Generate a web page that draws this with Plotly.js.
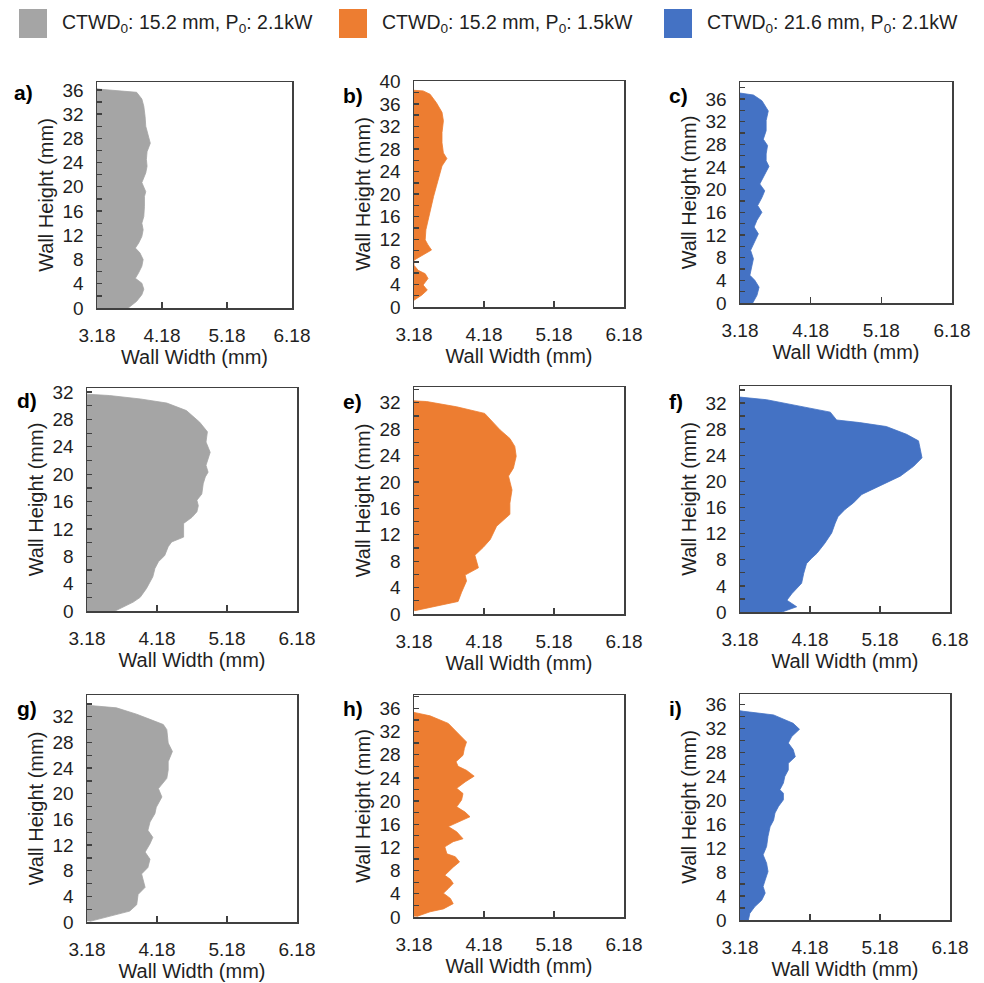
<!DOCTYPE html>
<html>
<head>
<meta charset="utf-8">
<script src="https://cdn.plot.ly/plotly-3.0.1.min.js"></script>
<style>html,body{margin:0;padding:0;background:#fff}#chart{width:984px;height:983px}</style>
</head>
<body>
<div id="chart"></div>
<script>
// ---- data ----
const seriesNames = ['CTWD<sub>0</sub>: 15.2 mm, P<sub>0</sub>: 2.1kW', 'CTWD<sub>0</sub>: 15.2 mm, P<sub>0</sub>: 1.5kW', 'CTWD<sub>0</sub>: 21.6 mm, P<sub>0</sub>: 2.1kW'];
const seriesColors = ['#A5A5A5', '#ED7D31', '#4472C4'];
const panelLabels = ['a)', 'b)', 'c)', 'd)', 'e)', 'f)', 'g)', 'h)', 'i)'];
const xTickVals = [3.18, 4.18, 5.18, 6.18];
const xTickText = ['3.18', '4.18', '5.18', '6.18'];
const xTitle = 'Wall Width (mm)';
const yTitle = 'Wall Height (mm)';

const aHeight = [0, 1.1, 2.2, 3.1, 4.1, 4.9, 5.8, 6.9, 8.0, 9.1, 9.9, 10.7, 11.8, 12.9, 14.0, 15.1, 16.8, 18.4, 19.2, 20.7, 22.3, 23.4, 24.5, 25.8, 27.2, 28.6, 30.0, 31.6, 33.3, 34.5, 35.6, 36.1, 36.2];
const aWidth  = [3.66, 3.79, 3.87, 3.90, 3.87, 3.77, 3.82, 3.87, 3.89, 3.84, 3.77, 3.82, 3.87, 3.89, 3.87, 3.90, 3.91, 3.91, 3.93, 3.87, 3.93, 3.95, 3.94, 3.95, 4.00, 3.96, 3.93, 3.92, 3.90, 3.87, 3.79, 3.23, 3.18];

const bHeight = [1.2, 2.1, 3.0, 3.9, 5.05, 5.9, 6.5, 7.4, 8.3, 8.9, 10.1, 11.0, 11.9, 13.7, 15.4, 17.8, 19.6, 21.4, 23.5, 25.0, 26.3, 27.3, 29.1, 30.9, 33.0, 34.5, 36.2, 37.7, 38.3, 38.4];
const bWidth  = [3.18, 3.29, 3.37, 3.31, 3.38, 3.34, 3.24, 3.18, 3.18, 3.27, 3.43, 3.38, 3.34, 3.35, 3.38, 3.43, 3.46, 3.50, 3.55, 3.58, 3.65, 3.60, 3.58, 3.58, 3.60, 3.58, 3.50, 3.41, 3.31, 3.18];

const cHeight = [0, 1.35, 2.8, 4.0, 4.9, 6.3, 7.8, 9.3, 10.7, 12.2, 13.4, 14.6, 16.0, 17.2, 18.6, 19.8, 21.0, 22.2, 24.1, 25.1, 26.3, 27.8, 28.9, 30.4, 32.2, 33.9, 35.7, 36.7, 37.0, 37.05];
const cWidth  = [3.36, 3.42, 3.45, 3.39, 3.32, 3.34, 3.37, 3.33, 3.38, 3.44, 3.38, 3.42, 3.49, 3.43, 3.49, 3.53, 3.46, 3.51, 3.59, 3.55, 3.55, 3.57, 3.51, 3.55, 3.55, 3.58, 3.49, 3.37, 3.20, 3.18];

const dHeight = [0, 0.6, 1.3, 2.0, 3.3, 5.0, 6.2, 7.2, 8.1, 9.4, 10.1, 10.8, 11.8, 12.8, 13.7, 14.5, 15.4, 16.2, 17.1, 18.6, 19.6, 20.3, 21.3, 23.2, 24.7, 26.2, 27.6, 29.3, 30.4, 31.0, 31.5, 31.7];
const dWidth  = [3.58, 3.70, 3.84, 3.94, 4.03, 4.12, 4.15, 4.20, 4.29, 4.34, 4.39, 4.56, 4.56, 4.56, 4.68, 4.75, 4.77, 4.75, 4.82, 4.84, 4.87, 4.91, 4.88, 4.94, 4.88, 4.90, 4.79, 4.60, 4.32, 3.94, 3.50, 3.18];

const eHeight = [0.5, 1.1, 1.9, 3.3, 5.0, 5.9, 7.0, 8.9, 10.1, 11.3, 13.3, 15.1, 16.8, 18.8, 20.9, 22.1, 23.9, 25.4, 26.6, 27.9, 29.1, 30.4, 31.4, 32.2, 32.3];
const eWidth  = [3.19, 3.46, 3.81, 3.86, 3.93, 3.91, 4.10, 4.05, 4.17, 4.27, 4.36, 4.55, 4.55, 4.58, 4.53, 4.60, 4.64, 4.62, 4.55, 4.41, 4.31, 4.19, 3.79, 3.36, 3.18];

const fHeight = [0, 0.8, 1.3, 1.8, 2.8, 4.4, 5.9, 7.4, 8.2, 9.0, 10.5, 12.1, 13.6, 14.6, 15.7, 16.7, 18.0, 19.3, 20.8, 22.3, 23.6, 25.2, 26.2, 27.2, 28.4, 29.0, 29.4, 30.6, 31.3, 31.8, 32.5, 32.9];
const fWidth  = [3.78, 3.99, 3.92, 3.85, 3.92, 4.06, 4.09, 4.13, 4.20, 4.28, 4.39, 4.49, 4.54, 4.58, 4.68, 4.80, 4.92, 5.18, 5.47, 5.66, 5.78, 5.75, 5.73, 5.56, 5.27, 4.89, 4.56, 4.47, 4.13, 3.85, 3.56, 3.18];

const gHeight = [0.1, 0.9, 1.7, 2.7, 4.3, 5.4, 6.4, 7.5, 8.5, 9.8, 10.9, 12.2, 13.2, 14.3, 15.6, 16.9, 17.9, 19.5, 20.8, 22.4, 23.7, 25.0, 26.6, 27.9, 30.0, 30.8, 31.6, 32.4, 33.4, 33.8];
const gWidth  = [3.22, 3.51, 3.79, 3.89, 3.91, 4.01, 3.99, 3.96, 4.05, 4.08, 4.01, 4.08, 4.12, 4.05, 4.08, 4.15, 4.17, 4.25, 4.20, 4.32, 4.34, 4.34, 4.40, 4.34, 4.32, 4.27, 4.08, 3.89, 3.60, 3.18];

const hHeight = [0.1, 0.9, 1.4, 2.3, 3.2, 4.1, 4.9, 5.8, 6.5, 7.2, 8.6, 9.5, 10.4, 10.9, 12.1, 13.0, 13.5, 14.7, 15.6, 16.4, 17.3, 18.1, 19.0, 20.2, 21.3, 22.2, 23.3, 24.3, 25.3, 26.0, 26.8, 27.9, 29.1, 30.2, 31.7, 33.4, 34.7, 35.3];
const hWidth  = [3.22, 3.41, 3.60, 3.74, 3.70, 3.60, 3.67, 3.74, 3.70, 3.62, 3.74, 3.83, 3.77, 3.65, 3.62, 3.74, 3.88, 3.79, 3.67, 3.81, 3.98, 3.91, 3.79, 3.86, 3.88, 3.79, 3.91, 4.04, 3.93, 3.81, 3.78, 3.88, 3.90, 3.93, 3.81, 3.67, 3.41, 3.18];

const iHeight = [0, 1.1, 2.2, 3.3, 4.5, 5.6, 6.7, 8.1, 9.5, 10.9, 12.3, 14.0, 15.6, 16.7, 17.9, 19.0, 20.1, 21.2, 21.8, 22.9, 24.0, 25.1, 26.2, 27.3, 28.5, 29.6, 30.7, 31.9, 32.9, 34.3, 34.9, 35.0];
const iWidth  = [3.30, 3.32, 3.39, 3.49, 3.54, 3.51, 3.54, 3.58, 3.56, 3.51, 3.56, 3.58, 3.61, 3.66, 3.68, 3.73, 3.80, 3.80, 3.75, 3.80, 3.82, 3.87, 3.87, 3.97, 3.94, 3.87, 3.92, 4.03, 3.94, 3.66, 3.23, 3.18];

const yAxisMax = [37.3, 40.05, 39.0, 32.6, 34.4, 34.6, 35.4, 38.3, 37.8];

// ---- layout geometry (pixels) ----
const W = 984, H = 983;
const panels = [
  {h: aHeight, w: aWidth, s: 0, px: [97, 292], py: [82, 308], lab: [23, 93]},
  {h: bHeight, w: bWidth, s: 1, px: [414, 624], py: [81, 307], lab: [353, 95]},
  {h: cHeight, w: cWidth, s: 2, px: [740, 952], py: [82, 303], lab: [678, 96]},
  {h: dHeight, w: dWidth, s: 0, px: [87, 297], py: [388, 611], lab: [27, 400]},
  {h: eHeight, w: eWidth, s: 1, px: [414, 624], py: [387, 614], lab: [352, 401]},
  {h: fHeight, w: fWidth, s: 2, px: [740, 950], py: [386, 612], lab: [676, 402]},
  {h: gHeight, w: gWidth, s: 0, px: [87, 297], py: [695, 922], lab: [27, 708]},
  {h: hHeight, w: hWidth, s: 1, px: [414, 624], py: [695, 917], lab: [353, 708]},
  {h: iHeight, w: iWidth, s: 2, px: [740, 950], py: [694, 920], lab: [675, 708]}
];

const FONT = 'Liberation Sans, Arial, sans-serif';
const AXC = '#404040';
const TXC = '#1f1f1f';
const traces = [];
const layout = {
  width: W, height: H,
  margin: {l: 0, r: 0, t: 0, b: 0},
  paper_bgcolor: '#fff', plot_bgcolor: '#fff',
  showlegend: false,
  font: {family: FONT, color: TXC},
  shapes: [], annotations: []
};

panels.forEach((p, k) => {
  const n = k === 0 ? '' : String(k + 1);
  traces.push({
    type: 'scatter', mode: 'lines',
    x: p.w, y: p.h,
    xaxis: 'x' + n, yaxis: 'y' + n,
    fill: 'tozerox',
    fillcolor: seriesColors[p.s],
    line: {color: seriesColors[p.s], width: 0.8},
    name: seriesNames[p.s],
    hoverinfo: 'x+y'
  });
  layout['xaxis' + n] = {
    domain: [p.px[0] / W, p.px[1] / W],
    anchor: 'y' + n,
    range: [3.18, 6.18],
    tickvals: xTickVals, ticktext: xTickText,
    ticks: 'inside', ticklen: 6, tickwidth: 1.3, tickcolor: AXC,
    showline: true, mirror: true, linecolor: AXC, linewidth: 1.5,
    showgrid: false, zeroline: false,
    tickfont: {size: 19, family: FONT, color: TXC},
    ticklabelstandoff: 10,
    title: {text: xTitle, font: {size: 20, family: FONT, color: TXC}, standoff: 1}
  };
  layout['yaxis' + n] = {
    domain: [1 - p.py[1] / H, 1 - p.py[0] / H],
    anchor: 'x' + n,
    range: [0, yAxisMax[k]],
    tick0: 0, dtick: 4,
    ticks: 'inside', ticklen: 5, tickwidth: 1.3, tickcolor: AXC,
    minor: {dtick: 2, ticks: 'inside', ticklen: 5, tickwidth: 1.3, tickcolor: AXC, showgrid: false},
    showline: true, mirror: true, linecolor: AXC, linewidth: 1.5,
    showgrid: false, zeroline: false,
    tickfont: {size: 19, family: FONT, color: TXC},
    ticklabelstandoff: 8,
    title: {text: yTitle, font: {size: 20, family: FONT, color: TXC}, standoff: 3}
  };
  layout.annotations.push({
    xref: 'paper', yref: 'paper',
    x: p.lab[0] / W, y: 1 - p.lab[1] / H,
    xanchor: 'center', yanchor: 'middle',
    text: '<b>' + panelLabels[k] + '</b>', showarrow: false,
    font: {size: 21, family: FONT, color: '#000'}
  });
});

// legend (drawn as swatches + text)
const legendSwatchX = [19, 339, 664];
seriesNames.forEach((nm, s) => {
  const x0 = legendSwatchX[s];
  layout.shapes.push({
    type: 'rect', xref: 'paper', yref: 'paper',
    x0: x0 / W, x1: (x0 + 28) / W, y0: 1 - 38 / H, y1: 1 - 9 / H,
    fillcolor: seriesColors[s], line: {width: 0}
  });
  layout.annotations.push({
    xref: 'paper', yref: 'paper',
    x: (x0 + 41) / W, y: 1 - 24 / H,
    xanchor: 'left', yanchor: 'middle',
    text: nm, showarrow: false,
    font: {size: 19.5, family: FONT, color: TXC}
  });
});

Plotly.newPlot('chart', traces, layout, {displayModeBar: false, staticPlot: true});
</script>
</body>
</html>
